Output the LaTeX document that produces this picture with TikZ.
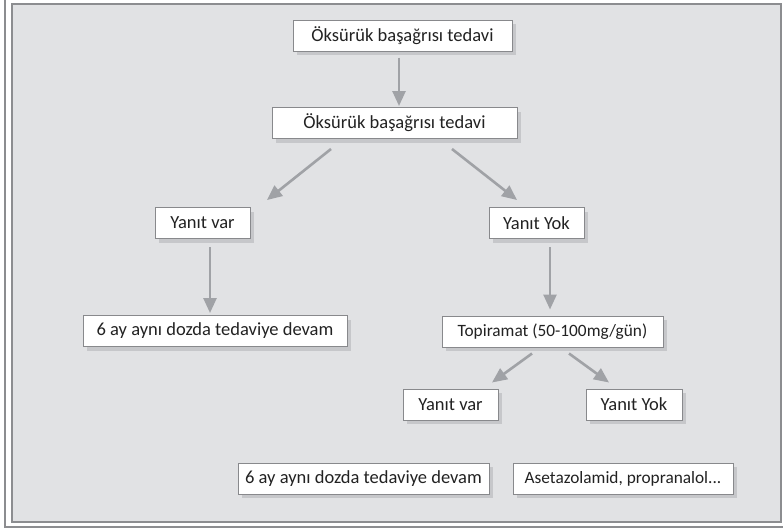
\documentclass[tikz,border=0pt]{standalone}
\usepackage{fontspec}
\setmainfont{Carlito}
\usetikzlibrary{arrows.meta,calc,shadows}
\definecolor{panelfill}{HTML}{E1E2E4}
\definecolor{panelline}{HTML}{8C8D90}
\definecolor{arrowcol}{HTML}{A0A2A6}
\definecolor{boxline}{HTML}{88898C}
\definecolor{shadowcol}{HTML}{C6C7CA}
\definecolor{textcol}{HTML}{222222}
\begin{document}
\begin{tikzpicture}[x=1pt,y=-1pt,
  stepbox/.style={draw=boxline, line width=1pt, fill=white, text=textcol,
    font=\fontsize{18.5}{22}\selectfont, inner sep=0pt,
    minimum height=31pt,
    drop shadow={shadow xshift=4pt, shadow yshift=-4pt, fill=shadowcol, opacity=1}},
  smalltext/.style={font=\fontsize{17.3}{21}\selectfont},
  flow/.style={draw=arrowcol, line width=2.6pt,
    -{Triangle[width=13pt,length=15pt]}, arrowcol}]
  % page area and frame
  \useasboundingbox (0,0) rectangle (783,530);
  \fill[white] (0,0) rectangle (783,530);
  \draw[panelline, line width=1.3pt] (5,0) -- (5,527) -- (783,527);
  \draw[panelline, line width=2pt, fill=panelfill] (12,4) rectangle (781,522);

  % boxes
  \node[stepbox, minimum width=219pt] (b1) at (402.5,35.5) {Öksürük başağrısı tedavi};
  \node[stepbox, minimum width=245pt] (b2) at (394.5,123) {Öksürük başağrısı tedavi};
  \node[stepbox, minimum width=95pt] (yv1) at (202.5,223) {Yanıt var};
  \node[stepbox, minimum width=95pt] (yy1) at (536.5,223) {Yanıt Yok};
  \node[stepbox, minimum width=264pt] (d1) at (215,331) {6 ay aynı dozda tedaviye devam};
  \node[stepbox, smalltext, minimum width=221pt] (tp) at (552.5,331.5) {Topiramat (50-100mg/gün)};
  \node[stepbox, minimum width=95pt] (yv2) at (450.5,404.5) {Yanıt var};
  \node[stepbox, minimum width=96pt] (yy2) at (634,404.5) {Yanıt Yok};
  \node[stepbox, minimum width=251pt] (d2) at (363.5,478.5) {6 ay aynı dozda tedaviye devam};
  \node[stepbox, smalltext, minimum width=220pt] (as) at (623,478.5) {Asetazolamid, propranalol...};

  % connectors
  \draw[flow] ($(b1.south)+(-3.5,6)$) -- ($(b2.north)+(4.5,-1)$);
  \draw[flow] ($(b2.south)+(-63.5,10)$) -- ($(yv1.north)+(64.5,-7)$);
  \draw[flow] ($(b2.south)+(57.5,10)$) -- ($(yy1.north)+(-19.5,-7)$);
  \draw[flow] ($(yv1.south)+(7.5,8)$) -- ($(d1.north)+(-5,-2)$);
  \draw[flow] ($(yy1.south)+(13.5,8)$) -- ($(tp.north)+(-2.5,-6)$);
  \draw[flow] ($(tp.south)+(-20.5,6)$) -- ($(yv2.north)+(41.5,-6)$);
  \draw[flow] ($(tp.south)+(16.5,6)$) -- ($(yy2.north)+(-25,-6)$);
\end{tikzpicture}
\end{document}
